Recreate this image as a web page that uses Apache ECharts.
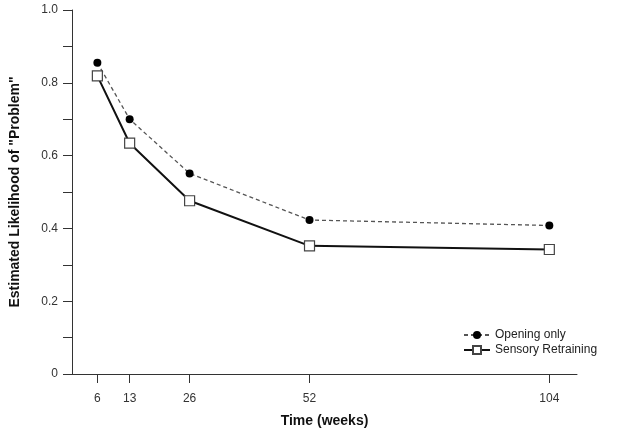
<!DOCTYPE html>
<html>
<head>
<meta charset="utf-8">
<script src="https://cdn.jsdelivr.net/npm/echarts@6/dist/echarts.min.js"></script>
<style>
  html, body { margin: 0; padding: 0; background: #fff; }
  #chart { width: 624px; height: 434px; }
</style>
</head>
<body>
<div id="chart"></div>
<script>
// weeks on the x axis
const weeks = [6, 13, 26, 52, 104];
// estimated likelihood per group
const openingOnly = [0.855, 0.70, 0.551, 0.423, 0.408];
const sensoryRetraining = [0.819, 0.634, 0.476, 0.352, 0.342];

const pair = (vals) => weeks.map((w, i) => [w, vals[i]]);

const chart = echarts.init(document.getElementById('chart'));
chart.setOption({
  animation: false,
  textStyle: { fontFamily: 'Liberation Sans, Arial, sans-serif' },
  grid: { left: 72, right: 47, top: 10, bottom: 60, outerBoundsMode: 'none', containLabel: false },
  legend: {
    orient: 'vertical',
    left: 458,
    top: 324,
    itemGap: 3,
    itemWidth: 26,
    itemHeight: 10,
    textStyle: { fontSize: 12, color: '#222' },
    data: ['Opening only', 'Sensory Retraining']
  },
  xAxis: {
    type: 'value',
    min: 0.5,
    max: 110,
    name: 'Time (weeks)',
    nameLocation: 'middle',
    nameGap: 40,
    nameTextStyle: { fontSize: 14, fontWeight: 'bold', color: '#111' },
    splitLine: { show: false },
    axisLine: { lineStyle: { color: '#333', width: 1 } },
    axisTick: { customValues: weeks, length: 9, lineStyle: { color: '#333' } },
    axisLabel: { customValues: weeks, margin: 19, fontSize: 12, color: '#333' }
  },
  yAxis: {
    type: 'value',
    min: 0,
    max: 1,
    interval: 0.1,
    name: 'Estimated Likelihood of "Problem"',
    nameLocation: 'middle',
    nameGap: 50,
    nameTextStyle: { fontSize: 14, fontWeight: 'bold', color: '#111' },
    splitLine: { show: false },
    axisLine: { show: true, lineStyle: { color: '#333', width: 1 } },
    axisTick: { show: true, inside: false, length: 9, lineStyle: { color: '#333' } },
    axisLabel: {
      fontSize: 12,
      color: '#333',
      margin: 14,
      formatter(v) {  // only every other tick gets a label
        const k = Math.round(v * 10);
        if (k % 2 !== 0) return '';
        return k === 0 ? '0' : (k / 10).toFixed(1);
      }
    }
  },
  series: [
    {
      name: 'Opening only',
      type: 'line',
      data: pair(openingOnly),
      symbol: 'circle',
      symbolSize: 8,
      itemStyle: { color: '#000' },
      lineStyle: { color: '#555', width: 1.3, type: [4, 3] }
    },
    {
      name: 'Sensory Retraining',
      type: 'line',
      data: pair(sensoryRetraining),
      symbol: 'rect',
      symbolSize: 10,
      itemStyle: { color: '#fff', borderColor: '#444', borderWidth: 1.2 },
      lineStyle: { color: '#111', width: 2 }
    }
  ]
});
</script>
</body>
</html>
